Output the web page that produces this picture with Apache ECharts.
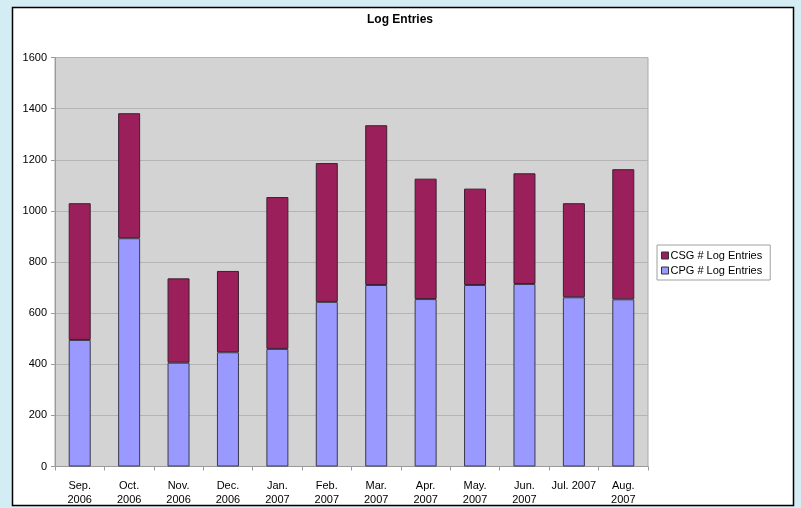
<!DOCTYPE html>
<html>
<head>
<meta charset="utf-8">
<script src="https://cdn.jsdelivr.net/npm/echarts@6/dist/echarts.min.js"></script>
<style>
  html, body { margin: 0; padding: 0; background: #d4ecf4; }
  #chart { width: 801px; height: 508px; }
</style>
</head>
<body>
<div id="chart"></div>
<script>
// Monthly log entry counts, stacked by group
const months = ['Sep.\n2006', 'Oct.\n2006', 'Nov.\n2006', 'Dec.\n2006', 'Jan.\n2007', 'Feb.\n2007',
                'Mar.\n2007', 'Apr.\n2007', 'May.\n2007', 'Jun.\n2007', 'Jul. 2007', 'Aug.\n2007'];
const cpgEntries = [495, 893, 406, 447, 460, 644, 710, 655, 710, 714, 662, 654];
const csgEntries = [535, 489, 330, 318, 594, 543, 625, 471, 377, 433, 368, 509];
const yTicks = { min: 0, max: 1600, interval: 200 };

const chart = echarts.init(document.getElementById('chart'), null, { renderer: 'canvas' });

chart.setOption({
  backgroundColor: '#d4ecf4',
  animation: false,
  textStyle: { fontFamily: 'Liberation Sans, Arial, sans-serif' },
  graphic: [{
    type: 'rect',
    z: -10,
    shape: { x: 12.5, y: 7.5, width: 781, height: 498 },
    style: { fill: '#ffffff', stroke: '#000000', lineWidth: 1.5 }
  }],
  title: {
    text: 'Log Entries',
    left: 395,
    top: 9,
    textAlign: 'center',
    textStyle: { fontSize: 12, fontWeight: 'bold', color: '#000' }
  },
  legend: {
    orient: 'vertical',
    left: 657,
    top: 245,
    padding: [5, 8, 4, 4],
    itemGap: 4,
    itemWidth: 7,
    itemHeight: 7,
    borderColor: '#a0a0a0',
    borderWidth: 1,
    icon: 'rect',
    data: ['CSG # Log Entries', 'CPG # Log Entries'],
    textStyle: { fontSize: 11, color: '#000', padding: [0, 0, 0, -3] },
    itemStyle: { borderColor: '#333', borderWidth: 1 }
  },
  grid: {
    left: 55,
    right: 153,
    top: 57.5,
    bottom: 41.5,
    show: true,
    backgroundColor: '#d3d3d3',
    borderColor: '#a8a8a8',
    borderWidth: 1
  },
  xAxis: {
    type: 'category',
    data: months,
    axisLine: { lineStyle: { color: '#9a9a9a' } },
    axisTick: { show: true, length: 4, lineStyle: { color: '#9a9a9a' } },
    axisLabel: { fontSize: 11, color: '#000', margin: 12, lineHeight: 14, interval: 0 }
  },
  yAxis: {
    type: 'value',
    min: yTicks.min,
    max: yTicks.max,
    interval: yTicks.interval,
    axisLine: { show: true, lineStyle: { color: '#9a9a9a' } },
    axisTick: { show: true, length: 4, lineStyle: { color: '#9a9a9a' } },
    axisLabel: { fontSize: 11, color: '#000', margin: 8, formatter: v => String(v) },
    splitLine: { lineStyle: { color: '#b4b4b4', width: 1 } }
  },
  series: [
    {
      name: 'CPG # Log Entries',
      type: 'bar',
      stack: 'total',
      barWidth: 22,
      data: cpgEntries,
      itemStyle: { color: '#9999ff', borderColor: '#3a3a4a', borderWidth: 1 }
    },
    {
      name: 'CSG # Log Entries',
      type: 'bar',
      stack: 'total',
      barWidth: 22,
      data: csgEntries,
      itemStyle: { color: '#9b1f5a', borderColor: '#3a2030', borderWidth: 1 }
    }
  ]
});
</script>
</body>
</html>
